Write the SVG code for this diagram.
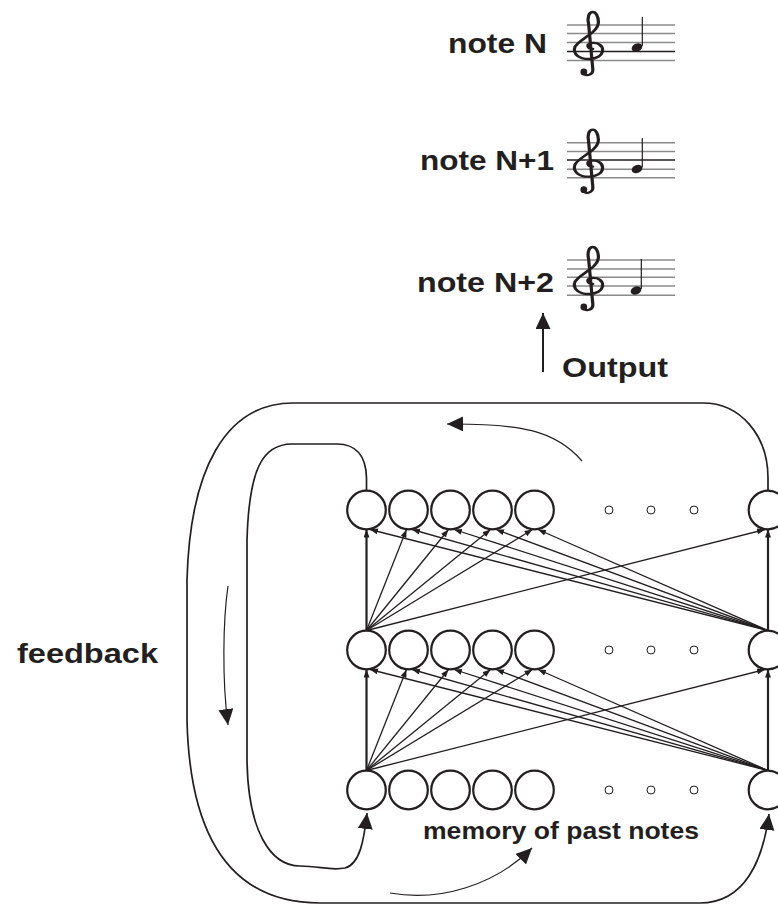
<svg xmlns="http://www.w3.org/2000/svg" width="778" height="905" viewBox="0 0 778 905">
<style>
.t{font-family:"Liberation Sans",Arial,sans-serif;font-weight:bold;fill:#231f20}
.n{fill:#fff;stroke:#231f20;stroke-width:2.2}
.d{fill:#fff;stroke:#231f20;stroke-width:1}
.e{stroke:#231f20;stroke-width:1.3;fill:none;marker-end:url(#sa)}
.v{stroke:#231f20;stroke-width:2.2;fill:none;marker-end:url(#sa)}
.loop{stroke:#231f20;stroke-width:1.7;fill:none}
.thin{stroke:#231f20;stroke-width:1.2;fill:none}
.staff{stroke:#8a8a8a;stroke-width:1.4}
.staffd{stroke:#231f20;stroke-width:1.4}
.clef{stroke:#231f20;stroke-width:2.3;fill:none;stroke-linecap:round}
</style>
<defs>
<marker id="sa" markerUnits="userSpaceOnUse" markerWidth="10" markerHeight="7" refX="8" refY="3" orient="auto">
<path d="M0,0 L8,3 L0,6 z" fill="#231f20"/>
</marker>
<marker id="la" markerUnits="userSpaceOnUse" markerWidth="18" markerHeight="16" refX="16" refY="7.5" orient="auto">
<path d="M0,0 L16,7.5 L0,15 z" fill="#231f20"/>
</marker>
<g id="clef">
<path class="clef" transform="scale(1.4,1)" d="M2,24 C-2,24 -3,19 1,18 C6,17 9,21 9,25 C9,31 4,34 -1,34 C-8,34 -12,29 -11,23 C-10,15 6,9 6,-3 C6,-9 4,-13 2,-13 C-1,-13 -2,-7 -1,-1 L2,44 C2.5,50 -3,52 -5,48"/>
<circle cx="-6.2" cy="47" r="3.4" fill="#231f20"/>
</g>
</defs>

<g id="note-n">
<text class="t" x="448" y="53" font-size="27.5" textLength="99" lengthAdjust="spacingAndGlyphs">note N</text>
<line class="staff" x1="567" y1="25" x2="675" y2="25"/>
<line class="staff" x1="567" y1="33.5" x2="675" y2="33.5"/>
<line class="staff" x1="567" y1="42.5" x2="675" y2="42.5"/>
<line class="staffd" x1="567" y1="51.5" x2="675" y2="51.5"/>
<line class="staff" x1="567" y1="60.5" x2="675" y2="60.5"/>
<use href="#clef" x="590" y="25"/>
<ellipse cx="637" cy="47.5" rx="5.5" ry="4" transform="rotate(-20 637 47.5)" fill="#231f20"/>
<line x1="642.3" y1="46" x2="642.3" y2="17" stroke="#231f20" stroke-width="1.2"/>
</g>

<g id="note-n1">
<text class="t" x="420" y="170" font-size="27.5" textLength="134" lengthAdjust="spacingAndGlyphs">note N+1</text>
<line class="staff" x1="567" y1="142.7" x2="675" y2="142.7"/>
<line class="staff" x1="567" y1="151.5" x2="675" y2="151.5"/>
<line class="staffd" x1="567" y1="160" x2="675" y2="160"/>
<line class="staff" x1="567" y1="169.3" x2="675" y2="169.3"/>
<line class="staff" x1="567" y1="177.7" x2="675" y2="177.7"/>
<use href="#clef" x="590" y="142.7"/>
<ellipse cx="637" cy="169" rx="5.5" ry="4" transform="rotate(-20 637 169)" fill="#231f20"/>
<line x1="642.3" y1="167.5" x2="642.3" y2="138" stroke="#231f20" stroke-width="1.2"/>
</g>

<g id="note-n2">
<text class="t" x="417" y="292" font-size="27.5" textLength="137" lengthAdjust="spacingAndGlyphs">note N+2</text>
<line class="staff" x1="567" y1="260" x2="675" y2="260"/>
<line class="staff" x1="567" y1="269" x2="675" y2="269"/>
<line class="staff" x1="567" y1="277.3" x2="675" y2="277.3"/>
<line class="staff" x1="567" y1="286" x2="675" y2="286"/>
<line class="staff" x1="567" y1="295.3" x2="675" y2="295.3"/>
<use href="#clef" x="590" y="260"/>
<ellipse cx="636" cy="290.5" rx="5.5" ry="4" transform="rotate(-20 636 290.5)" fill="#231f20"/>
<line x1="641.3" y1="289" x2="641.3" y2="259" stroke="#231f20" stroke-width="1.2"/>
</g>

<g id="labels">
<text class="t" x="562" y="377" font-size="27.5" textLength="106" lengthAdjust="spacingAndGlyphs">Output</text>
<text class="t" x="17" y="663" font-size="28.5" textLength="141" lengthAdjust="spacingAndGlyphs">feedback</text>
<text class="t" x="423" y="839" font-size="23" textLength="276" lengthAdjust="spacingAndGlyphs">memory of past notes</text>
</g>

<g id="connectors">
<path d="M543,372 L543,313" stroke="#231f20" stroke-width="2" fill="none" marker-end="url(#la)"/>
<path class="loop" d="M768,490.5 L768,478 C768,435 740,403 703,403 L293,403 C225,403 190,470 187,580 L187,720 C190,850 240,903 320,903 L700,903 C745,903 763,860 769,814" marker-end="url(#la)"/>
<path class="loop" d="M366.5,490.5 L366.5,478 C366,455 355,444 337,444 L292,444 C262,444 249,470 247,540 L247,760 C248,830 270,866 300,866 C320,866 330,871 345,868 C360,864 364,840 367,813" marker-end="url(#la)"/>
<path class="thin" d="M582,461 C555,430 520,423.5 447,424" marker-end="url(#la)"/>
<path class="thin" d="M228,586 C223,620 222,680 228,725" marker-end="url(#la)"/>
<path class="thin" d="M390,893 C440,902 495,885 532,848" marker-end="url(#la)"/>

<line class="v" x1="366.5" y1="630.5" x2="366.5" y2="529.5"/>
<line class="e" x1="366.5" y1="630.5" x2="406.5" y2="529.5"/>
<line class="e" x1="366.5" y1="630.5" x2="448.5" y2="529.5"/>
<line class="e" x1="366.5" y1="630.5" x2="490.5" y2="529.5"/>
<line class="e" x1="366.5" y1="630.5" x2="532.5" y2="529.5"/>
<line class="e" x1="366.5" y1="630.5" x2="765" y2="529.5"/>
<line class="v" x1="768" y1="630.5" x2="768" y2="529.5"/>
<line class="e" x1="768" y1="630.5" x2="370" y2="529.5"/>
<line class="e" x1="768" y1="630.5" x2="412" y2="529.5"/>
<line class="e" x1="768" y1="630.5" x2="454" y2="529.5"/>
<line class="e" x1="768" y1="630.5" x2="496" y2="529.5"/>
<line class="e" x1="768" y1="630.5" x2="538" y2="529.5"/>
<line class="v" x1="366.5" y1="770.5" x2="366.5" y2="669.5"/>
<line class="e" x1="366.5" y1="770.5" x2="406.5" y2="669.5"/>
<line class="e" x1="366.5" y1="770.5" x2="448.5" y2="669.5"/>
<line class="e" x1="366.5" y1="770.5" x2="490.5" y2="669.5"/>
<line class="e" x1="366.5" y1="770.5" x2="532.5" y2="669.5"/>
<line class="e" x1="366.5" y1="770.5" x2="765" y2="669.5"/>
<line class="v" x1="768" y1="770.5" x2="768" y2="669.5"/>
<line class="e" x1="768" y1="770.5" x2="370" y2="669.5"/>
<line class="e" x1="768" y1="770.5" x2="412" y2="669.5"/>
<line class="e" x1="768" y1="770.5" x2="454" y2="669.5"/>
<line class="e" x1="768" y1="770.5" x2="496" y2="669.5"/>
<line class="e" x1="768" y1="770.5" x2="538" y2="669.5"/>
</g>

<g id="layer-output">
<circle class="n" cx="366.5" cy="510" r="19.3"/>
<circle class="n" cx="408.5" cy="510" r="19.3"/>
<circle class="n" cx="450.5" cy="510" r="19.3"/>
<circle class="n" cx="492.5" cy="510" r="19.3"/>
<circle class="n" cx="534.5" cy="510" r="19.3"/>
<circle class="d" cx="609" cy="510" r="4"/>
<circle class="d" cx="651" cy="510" r="4"/>
<circle class="d" cx="694" cy="510" r="4"/>
<circle class="n" cx="768" cy="510" r="19.3"/>
</g>
<g id="layer-hidden">
<circle class="n" cx="366.5" cy="650" r="19.3"/>
<circle class="n" cx="408.5" cy="650" r="19.3"/>
<circle class="n" cx="450.5" cy="650" r="19.3"/>
<circle class="n" cx="492.5" cy="650" r="19.3"/>
<circle class="n" cx="534.5" cy="650" r="19.3"/>
<circle class="d" cx="609" cy="650" r="4"/>
<circle class="d" cx="651" cy="650" r="4"/>
<circle class="d" cx="694" cy="650" r="4"/>
<circle class="n" cx="768" cy="650" r="19.3"/>
</g>
<g id="layer-memory">
<circle class="n" cx="366.5" cy="790" r="19.3"/>
<circle class="n" cx="408.5" cy="790" r="19.3"/>
<circle class="n" cx="450.5" cy="790" r="19.3"/>
<circle class="n" cx="492.5" cy="790" r="19.3"/>
<circle class="n" cx="534.5" cy="790" r="19.3"/>
<circle class="d" cx="609" cy="790" r="4"/>
<circle class="d" cx="651" cy="790" r="4"/>
<circle class="d" cx="694" cy="790" r="4"/>
<circle class="n" cx="768" cy="790" r="19.3"/>
</g>
</svg>
